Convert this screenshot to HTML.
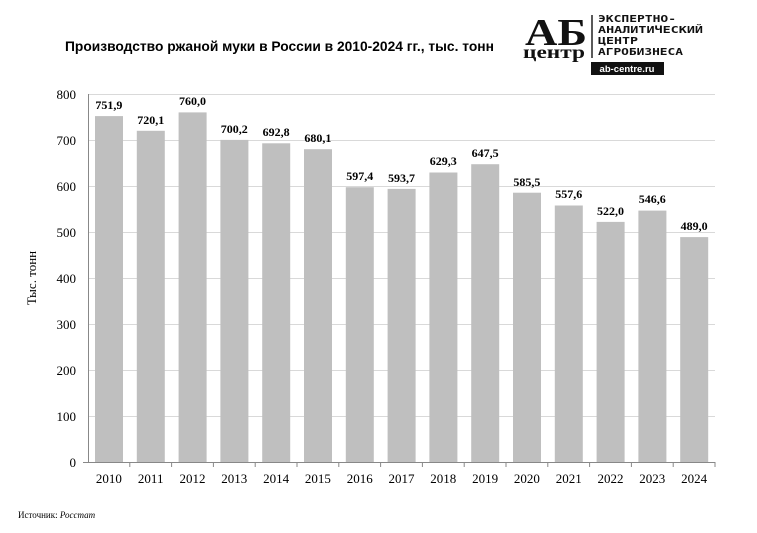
<!DOCTYPE html>
<html><head><meta charset="utf-8"><style>
body{margin:0;background:#fff;}
svg{display:block;font-family:"Liberation Serif",serif;}
</style></head><body>
<svg width="757" height="533" viewBox="0 0 757 533">
<text x="65" y="51" font-family="Liberation Sans, sans-serif" font-weight="bold" font-size="13.8" fill="#000">Производство ржаной муки в России в 2010-2024 гг., тыс. тонн</text>
<text x="525" y="45" font-size="38" font-weight="bold" fill="#111" textLength="62" lengthAdjust="spacingAndGlyphs">АБ</text>
<text x="523" y="58" font-size="18" font-weight="bold" fill="#111" textLength="62" lengthAdjust="spacingAndGlyphs">центр</text>
<line x1="592" y1="15" x2="592" y2="58" stroke="#222" stroke-width="1.5"/>
<g font-family="DejaVu Sans Mono, monospace" font-weight="bold" font-size="9.5" fill="#111">
<text x="598" y="22" textLength="78" lengthAdjust="spacingAndGlyphs">ЭКСПЕРТНО-</text>
<text x="598" y="33" textLength="105" lengthAdjust="spacingAndGlyphs">АНАЛИТИЧЕСКИЙ</text>
<text x="598" y="44" textLength="40" lengthAdjust="spacingAndGlyphs">ЦЕНТР</text>
<text x="598" y="55" textLength="85" lengthAdjust="spacingAndGlyphs">АГРОБИЗНЕСА</text>
</g>
<rect x="591" y="62" width="73" height="13" fill="#111"/>
<text x="627" y="72" text-anchor="middle" font-family="Liberation Sans, sans-serif" font-weight="bold" font-size="9.5" fill="#fff">ab-centre.ru</text>
<g stroke="#d9d9d9" stroke-width="1">
<line x1="88" y1="94.5" x2="715" y2="94.5"/><line x1="88" y1="140.5" x2="715" y2="140.5"/>
<line x1="88" y1="186.5" x2="715" y2="186.5"/><line x1="88" y1="232.5" x2="715" y2="232.5"/>
<line x1="88" y1="278.5" x2="715" y2="278.5"/><line x1="88" y1="324.5" x2="715" y2="324.5"/>
<line x1="88" y1="370.5" x2="715" y2="370.5"/><line x1="88" y1="416.5" x2="715" y2="416.5"/>
</g>
<g font-size="13" fill="#000" text-anchor="end">
<text x="76" y="99">800</text><text x="76" y="145">700</text><text x="76" y="191">600</text>
<text x="76" y="237">500</text><text x="76" y="283">400</text><text x="76" y="329">300</text>
<text x="76" y="375">200</text><text x="76" y="421">100</text><text x="76" y="467">0</text>
</g>
<text transform="translate(36,278) rotate(-90)" text-anchor="middle" font-size="13">Тыс. тонн</text>
<g fill="#bfbfbf">
<rect x="95" y="116.1" width="28" height="345.9"/>
<rect x="136.8" y="130.8" width="28" height="331.2"/>
<rect x="178.6" y="112.4" width="28" height="349.6"/>
<rect x="220.4" y="139.9" width="28" height="322.1"/>
<rect x="262.2" y="143.3" width="28" height="318.7"/>
<rect x="304" y="149.2" width="28" height="312.8"/>
<rect x="345.8" y="187.2" width="28" height="274.8"/>
<rect x="387.6" y="188.9" width="28" height="273.1"/>
<rect x="429.4" y="172.5" width="28" height="289.5"/>
<rect x="471.2" y="164.2" width="28" height="297.8"/>
<rect x="513" y="192.7" width="28" height="269.3"/>
<rect x="554.8" y="205.5" width="28" height="256.5"/>
<rect x="596.6" y="221.9" width="28" height="240.1"/>
<rect x="638.4" y="210.6" width="28" height="251.4"/>
<rect x="680.2" y="237.1" width="28" height="224.9"/>
</g>
<g font-size="12" font-weight="bold" text-anchor="middle">
<text x="108.9" y="109">751,9</text>
<text x="150.7" y="124">720,1</text>
<text x="192.5" y="105">760,0</text>
<text x="234.3" y="133">700,2</text>
<text x="276.1" y="136">692,8</text>
<text x="317.9" y="142">680,1</text>
<text x="359.7" y="180">597,4</text>
<text x="401.5" y="182">593,7</text>
<text x="443.3" y="165">629,3</text>
<text x="485.1" y="157">647,5</text>
<text x="526.9" y="186">585,5</text>
<text x="568.7" y="198">557,6</text>
<text x="610.5" y="215">522,0</text>
<text x="652.3" y="203">546,6</text>
<text x="694.1" y="230">489,0</text>
</g>
<g font-size="13" text-anchor="middle">
<text x="108.9" y="483">2010</text><text x="150.7" y="483">2011</text><text x="192.5" y="483">2012</text>
<text x="234.3" y="483">2013</text><text x="276.1" y="483">2014</text><text x="317.9" y="483">2015</text>
<text x="359.7" y="483">2016</text><text x="401.5" y="483">2017</text><text x="443.3" y="483">2018</text>
<text x="485.1" y="483">2019</text><text x="526.9" y="483">2020</text><text x="568.7" y="483">2021</text>
<text x="610.5" y="483">2022</text><text x="652.3" y="483">2023</text><text x="694.1" y="483">2024</text>
</g>
<g stroke="#888">
<line x1="129.8" y1="462" x2="129.8" y2="467"/><line x1="171.6" y1="462" x2="171.6" y2="467"/>
<line x1="213.4" y1="462" x2="213.4" y2="467"/><line x1="255.2" y1="462" x2="255.2" y2="467"/>
<line x1="297" y1="462" x2="297" y2="467"/><line x1="338.8" y1="462" x2="338.8" y2="467"/>
<line x1="380.6" y1="462" x2="380.6" y2="467"/><line x1="422.4" y1="462" x2="422.4" y2="467"/>
<line x1="464.2" y1="462" x2="464.2" y2="467"/><line x1="506" y1="462" x2="506" y2="467"/>
<line x1="547.8" y1="462" x2="547.8" y2="467"/><line x1="589.6" y1="462" x2="589.6" y2="467"/>
<line x1="631.4" y1="462" x2="631.4" y2="467"/><line x1="673.2" y1="462" x2="673.2" y2="467"/>
<line x1="715" y1="462" x2="715" y2="467"/>
<line x1="88.5" y1="94" x2="88.5" y2="462"/>
<line x1="83" y1="462.5" x2="715" y2="462.5"/>
</g>
<text x="18" y="518" font-size="9">Источник: <tspan font-style="italic">Росстат</tspan></text>
</svg>
</body></html>
